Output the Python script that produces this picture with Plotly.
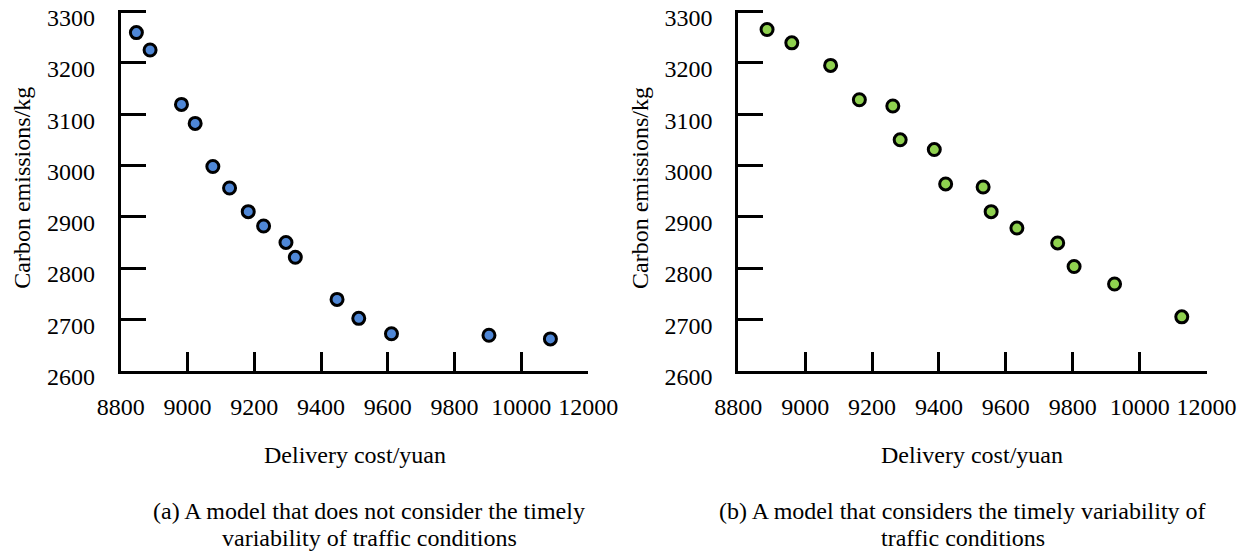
import plotly.graph_objects as go

# ---- data ----
cost_a = [8847, 8888, 8982, 9023, 9076, 9126, 9182, 9228, 9295, 9323, 9448, 9513, 9611, 9903, 10087]
emis_a = [3259, 3225, 3119, 3082, 2998, 2956, 2910, 2882, 2850, 2821, 2739, 2702, 2672, 2669, 2662]

cost_b = [8886, 8960, 9076, 9162, 9262, 9284, 9386, 9420, 9532, 9556, 9633, 9755, 9804, 9925, 10126]
emis_b = [3265, 3239, 3195, 3128, 3116, 3050, 3031, 2964, 2958, 2910, 2878, 2849, 2803, 2769, 2705]

x_tickvals = [8800, 9000, 9200, 9400, 9600, 9800, 10000, 10200]
x_ticktext = ["8800", "9000", "9200", "9400", "9600", "9800", "10000", "12000"]
y_tickvals = [2600, 2700, 2800, 2900, 3000, 3100, 3200, 3300]

x_title = "Delivery cost/yuan"
y_title = "Carbon emissions/kg"
caption_a = ["(a) A model that does not consider the timely", "variability of traffic conditions"]
caption_b = ["(b) A model that considers the timely variability of", "traffic conditions"]

FONT = "Liberation Serif, Times New Roman, serif"
FS = 24
W, H = 1260, 552

fig = go.Figure()
fig.add_trace(go.Scatter(x=cost_a, y=emis_a, mode="markers", xaxis="x", yaxis="y",
                         marker=dict(size=12, color="#4F87D6", line=dict(color="black", width=3)),
                         showlegend=False, cliponaxis=False))
fig.add_trace(go.Scatter(x=cost_b, y=emis_b, mode="markers", xaxis="x2", yaxis="y2",
                         marker=dict(size=12, color="#8FD14F", line=dict(color="black", width=3)),
                         showlegend=False, cliponaxis=False))

dom_a = [120.7 / W, 588.3 / W]
dom_b = [738.3 / W, 1206.7 / W]
dom_y = [1 - 370.7 / H, 1 - 10 / H]

xcommon = dict(range=[8800, 10200.5], tickvals=x_tickvals, ticktext=x_ticktext, automargin=False,
               showline=True, linecolor="black", linewidth=3, ticks="inside",
               ticklen=19, tickwidth=2.5, tickcolor="black", showgrid=False, zeroline=False,
               tickfont=dict(family=FONT, size=FS, color="black"), ticklabelstandoff=12)
ycommon = dict(range=[2600, 3303], tickvals=y_tickvals, automargin=False,
               showline=True, linecolor="black", linewidth=3, ticks="inside",
               ticklen=25, tickwidth=2.5, tickcolor="black", showgrid=False, zeroline=False,
               tickfont=dict(family=FONT, size=FS, color="black"), ticklabelstandoff=18,
               ticklabelshift=6, ticklabeloverflow="allow")

fig.update_layout(
    width=W, height=H,
    margin=dict(l=0, r=0, t=0, b=0, autoexpand=False),
    paper_bgcolor="white", plot_bgcolor="white",
    xaxis=dict(domain=dom_a, anchor="y", **xcommon),
    yaxis=dict(domain=dom_y, anchor="x", **ycommon),
    xaxis2=dict(domain=dom_b, anchor="y2", **xcommon),
    yaxis2=dict(domain=dom_y, anchor="x2", **ycommon),
)

ann_font = dict(family=FONT, size=FS, color="black")
anns = []
for dom, cap, ylab_x, cap_x in [(dom_a, caption_a, 21.7, 369), (dom_b, caption_b, 640, 963)]:
    cx = (dom[0] + dom[1]) / 2
    anns.append(dict(text=x_title, x=cx, y=1 - 455 / H, xref="paper", yref="paper",
                     showarrow=False, font=ann_font, xanchor="center", yanchor="middle"))
    anns.append(dict(text=y_title, x=ylab_x / W, y=1 - 188 / H, xref="paper", yref="paper",
                     showarrow=False, font=ann_font, textangle=-90, xanchor="center", yanchor="middle"))
    for line, ly in zip(cap, [511, 538]):
        anns.append(dict(text=line, x=cap_x / W, y=1 - ly / H, xref="paper", yref="paper",
                         showarrow=False, font=ann_font, xanchor="center", yanchor="middle"))
fig.update_layout(annotations=anns)

fig.write_html("out.html", config={"displayModeBar": False},
               post_script="document.body.style.margin='0';document.body.style.overflow='hidden';")
